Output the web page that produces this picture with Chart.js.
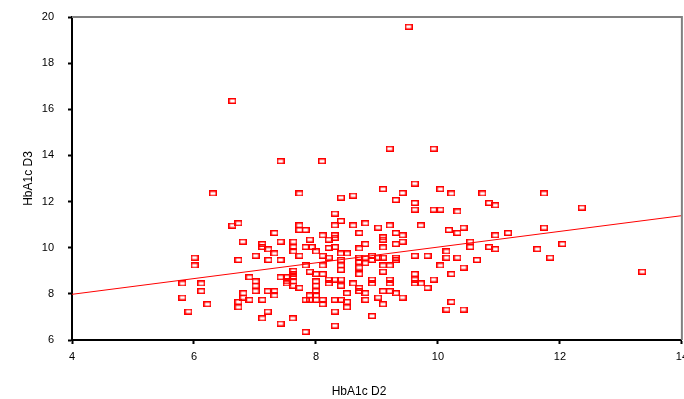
<!DOCTYPE html>
<html>
<head>
<meta charset="utf-8">
<script src="https://cdn.jsdelivr.net/npm/chart.js@4.4.1/dist/chart.umd.min.js"></script>
<style>
  html, body { margin: 0; padding: 0; background: #fff; overflow: hidden; }
  #wrap { width: 684px; height: 399px; overflow: hidden; position: relative; }
  #chart1 { display: block; }
</style>
</head>
<body>
<div id="wrap"><canvas id="chart1" width="694" height="399" style="width:694px;height:399px"></canvas></div>
<script>
// HbA1c on day 2 (x) vs day 3 (y)
var hba1cD2 = [
    9.52, 6.63, 9.21, 9.93, 7.42, 8.10, 6.31, 7.73, 6.63, 6.73,
    7.73, 7.73, 7.83, 7.32, 6.80, 7.12, 7.42, 7.63, 7.90, 9.62,
    9.10, 9.42, 10.04, 8.41, 8.61, 9.31, 9.62, 9.62, 9.93, 10.04,
    8.31, 8.31, 8.41, 8.61, 8.81, 9.02, 9.21, 9.72, 10.18, 8.71,
    9.31, 9.42, 8.11, 8.21, 8.31, 8.31, 9.10, 9.10, 9.31, 9.42,
    8.81, 9.10, 8.71, 10.22, 10.73, 11.74, 10.84, 10.94, 12.36, 10.32,
    10.32, 10.42, 10.94, 11.15, 11.74, 10.53, 10.53, 10.84, 10.94, 11.63,
    12.04, 10.14, 10.14, 10.32, 10.64, 11.84, 10.04, 10.42, 10.22, 9.93,
    13.35, 10.22, 10.14, 10.42, 7.12, 7.22, 7.63, 7.63, 7.83, 7.93,
    7.73, 8.00, 7.32, 7.01, 6.01, 6.01, 6.73, 7.22, 7.42, 7.83,
    7.90, 8.00, 6.91, 7.01, 7.01, 7.01, 7.42, 7.52, 7.52, 7.63,
    7.63, 7.63, 7.63, 7.63, 7.52, 7.73, 8.00, 8.00, 5.81, 6.12,
    6.12, 6.81, 6.81, 6.91, 6.73, 6.73, 7.21, 7.32, 7.32, 7.12,
    7.83, 7.90, 7.90, 8.00, 5.81, 6.22, 5.91, 7.21, 7.12, 7.42,
    7.62, 7.83, 8.21, 8.31, 8.41, 8.51, 8.11, 8.21, 8.41, 8.41,
    8.41, 8.71, 8.71, 8.71, 8.71, 8.81, 8.81, 8.92, 8.92, 9.02,
    9.10, 9.31, 9.31, 9.10, 9.21, 9.10, 9.62, 9.83, 8.11, 8.11,
    8.21, 8.21, 8.31, 8.41, 8.41, 8.61, 8.71, 8.71, 8.81, 8.92,
    8.92, 9.21, 9.21, 9.10, 9.21, 9.31, 9.42, 9.62, 9.62, 9.62,
    9.72, 9.83, 8.51, 8.51, 8.51, 8.31, 8.41, 8.11, 8.11, 8.00,
    8.00, 8.81, 9.02, 9.10, 8.31, 8.92, 8.31
];
var hba1cD3 = [
    19.58, 16.36, 14.29, 14.29, 13.75, 13.75, 12.35, 12.35, 10.96, 11.06,
    10.97, 10.77, 10.77, 10.64, 10.26, 10.16, 10.26, 10.26, 10.35, 12.78,
    12.54, 12.37, 12.54, 12.17, 12.26, 12.07, 11.94, 11.65, 11.65, 11.65,
    11.48, 10.97, 11.16, 10.97, 11.06, 10.87, 10.97, 10.97, 10.77, 10.64,
    10.64, 10.54, 10.54, 10.35, 10.54, 10.43, 10.35, 10.45, 10.16, 10.26,
    10.16, 10.01, 9.97, 12.35, 12.35, 12.35, 11.94, 11.84, 11.74, 11.57,
    10.64, 10.87, 10.54, 10.64, 10.87, 10.26, 10.03, 10.03, 9.94, 9.94,
    10.16, 9.84, 9.57, 9.57, 9.47, 9.57, 9.23, 9.14, 8.86, 8.62,
    8.96, 7.65, 7.32, 7.32, 10.03, 9.93, 10.03, 9.84, 10.03, 10.03,
    9.65, 9.84, 9.75, 9.65, 9.57, 9.23, 9.47, 9.47, 9.47, 9.23,
    8.96, 8.86, 8.72, 8.54, 8.35, 8.12, 8.72, 8.72, 8.54, 9.00,
    8.86, 8.72, 8.54, 8.35, 8.45, 8.26, 8.54, 8.35, 8.45, 8.45,
    8.12, 8.03, 7.84, 7.74, 7.65, 7.42, 8.12, 8.12, 7.93, 7.74,
    7.74, 7.93, 7.74, 7.74, 7.84, 7.55, 7.23, 7.23, 6.94, 6.71,
    6.94, 6.35, 9.99, 10.03, 9.75, 9.75, 9.65, 9.57, 9.47, 9.23,
    9.04, 9.57, 9.38, 9.14, 8.86, 9.57, 9.33, 9.65, 9.47, 9.57,
    9.57, 9.57, 9.47, 9.23, 9.23, 8.96, 9.65, 9.65, 9.23, 8.86,
    8.62, 8.45, 8.62, 8.62, 8.35, 8.45, 8.26, 8.12, 8.03, 8.62,
    8.45, 8.62, 8.45, 8.12, 8.12, 8.03, 7.84, 8.86, 8.62, 8.45,
    8.45, 8.26, 8.03, 7.65, 7.42, 7.74, 7.74, 7.74, 7.55, 8.12,
    7.93, 7.74, 7.84, 7.55, 7.23, 7.04, 6.62
];
// fit line end points
var fitX = [4, 14];
var fitY = [7.98, 11.39];

var xTicks = [4, 6, 8, 10, 12, 14];
var yTicks = [6, 8, 10, 12, 14, 16, 18, 20];

var font = "'Liberation Sans', Arial, sans-serif";

// small hollow red box used as the marker
var box = document.createElement('canvas');
box.width = 8;
box.height = 6;
var bctx = box.getContext('2d');
bctx.strokeStyle = '#ff0000';
bctx.lineWidth = 1.5;
bctx.strokeRect(0.75, 0.75, 6.5, 4.5);

var points = hba1cD2.map(function(x, i) { return {x: x, y: hba1cD3[i]}; });
var fitLine = fitX.map(function(x, i) { return {x: x, y: fitY[i]}; });

var framePlugin = {
    id: 'frame',
    afterDraw: function(chart) {
        var ctx = chart.ctx;
        var a = chart.chartArea;
        ctx.save();
        ctx.strokeStyle = '#808080';
        ctx.lineWidth = 2;
        ctx.beginPath();
        ctx.moveTo(a.left, a.top);
        ctx.lineTo(a.right, a.top);
        ctx.lineTo(a.right, a.bottom);
        ctx.stroke();
        // x axis title
        ctx.fillStyle = '#000';
        ctx.font = '12px ' + font;
        ctx.textAlign = 'center';
        ctx.textBaseline = 'middle';
        ctx.fillText('HbA1c D2', 359, 392);
        ctx.restore();
    }
};

var ctx = document.getElementById('chart1').getContext('2d');
var myChart = new Chart(ctx, {
    type: 'scatter',
    data: {
        datasets: [{
            label: 'HbA1c',
            data: points,
            pointStyle: box,
            pointRadius: 4,
            showLine: false
        }, {
            type: 'line',
            label: 'fit',
            data: fitLine,
            borderColor: '#ff0000',
            borderWidth: 1,
            pointRadius: 0,
            fill: false
        }]
    },
    options: {
        responsive: false,
        animation: false,
        devicePixelRatio: 1,
        layout: { padding: { top: 17, right: 0, left: 0, bottom: 0 } },
        plugins: {
            legend: { display: false },
            tooltip: { enabled: false }
        },
        scales: {
            x: {
                type: 'linear',
                min: 4,
                max: 14,
                afterBuildTicks: function(scale) {
                    scale.ticks = xTicks.map(function(v) { return {value: v}; });
                },
                afterFit: function(scale) {
                    scale.height = 59;
                },
                grid: { drawOnChartArea: false, drawTicks: true, tickLength: 4, tickWidth: 2, tickColor: '#000' },
                border: { display: true, color: '#000', width: 2 },
                ticks: { color: '#000', padding: 6, font: { family: font, size: 11 }, maxRotation: 0 }
            },
            y: {
                type: 'linear',
                min: 6,
                max: 20,
                afterBuildTicks: function(scale) {
                    scale.ticks = yTicks.map(function(v) { return {value: v}; });
                },
                afterFit: function(scale) {
                    scale.width = 72;
                    scale.paddingTop = 0;
                    scale.paddingBottom = 0;
                },
                grid: { drawOnChartArea: false, drawTicks: true, tickLength: 4, tickWidth: 2, tickColor: '#000' },
                border: { display: true, color: '#000', width: 2 },
                ticks: { color: '#000', padding: 14, font: { family: font, size: 11 } },
                title: {
                    display: true,
                    text: 'HbA1c D3',
                    color: '#000',
                    font: { family: font, size: 12 },
                    padding: { top: 21, bottom: 0 }
                }
            }
        }
    },
    plugins: [framePlugin]
});
</script>
</body>
</html>
